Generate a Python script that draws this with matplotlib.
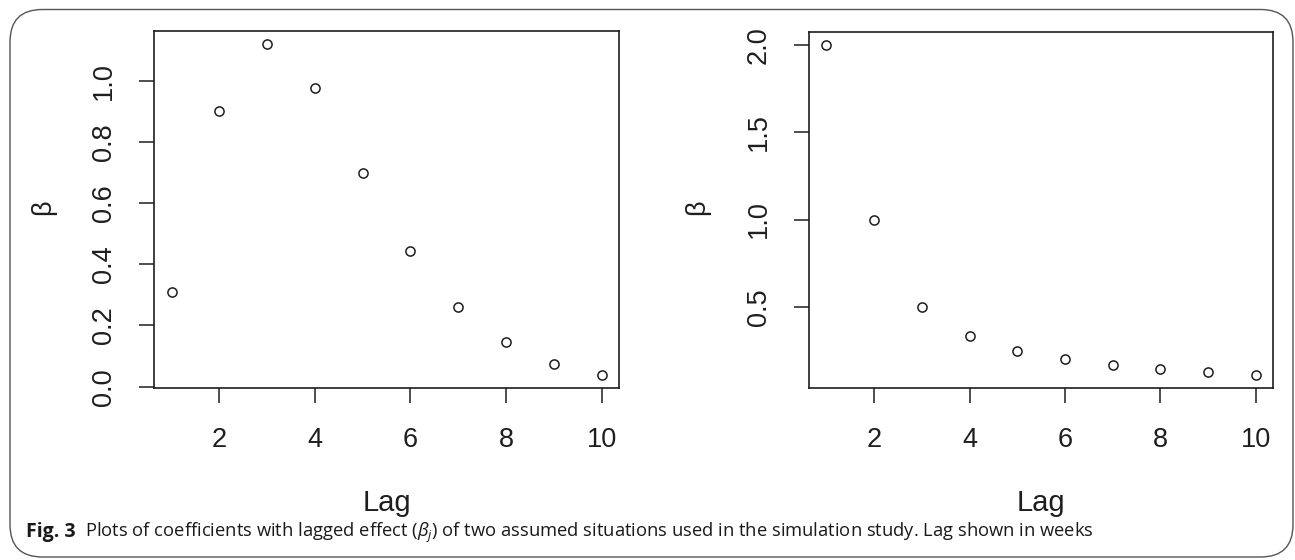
import numpy as np
import matplotlib
matplotlib.use("Agg")
import matplotlib.pyplot as plt
from matplotlib.patches import FancyBboxPatch

# ---- data ----
lags = [1, 2, 3, 4, 5, 6, 7, 8, 9, 10]
beta_left = [0.308, 0.902, 1.119, 0.977, 0.699, 0.444, 0.260, 0.146, 0.075, 0.038]
beta_right = [2.0, 1.0, 0.5, 0.333, 0.25, 0.2, 0.167, 0.143, 0.125, 0.111]
xticks = [2, 4, 6, 8, 10]
yticks_left = [0.0, 0.2, 0.4, 0.6, 0.8, 1.0]
yticks_right = [0.5, 1.0, 1.5, 2.0]
xlabel = "Lag"
ylabel = "β"
caption_bold = "Fig. 3"
caption_rest = r"Plots of coefficients with lagged effect ($\it{\beta_j}$) of two assumed situations used in the simulation study. Lag shown in weeks"

plt.rcParams['mathtext.fontset'] = 'custom'
plt.rcParams['mathtext.it'] = 'Open Sans:italic'
plt.rcParams['mathtext.rm'] = 'Open Sans'

W, H = 1295, 560
fig = plt.figure(figsize=(W / 100, H / 100), dpi=100)
fig.patch.set_facecolor('white')

INK = '#1e1e1e'
FONT = 'Liberation Sans'


def rlim(v):
    lo, hi = min(v), max(v)
    e = 0.04 * (hi - lo)
    return lo - e, hi + e


def px_rect(x0, y0, x1, y1):
    return [x0 / W, 1 - y1 / H, (x1 - x0) / W, (y1 - y0) / H]


def panel(rect, y, yticks, ylab_x):
    ax = fig.add_axes(rect)
    ax.plot(lags, y, linestyle='none', marker='o', markersize=6.6,
            markerfacecolor='none', markeredgecolor=INK, markeredgewidth=1.1)
    ax.set_xlim(*rlim(lags))
    ax.set_ylim(*rlim(y))
    ax.set_xticks(xticks)
    ax.set_yticks(yticks)
    ax.set_xticklabels([str(t) for t in xticks], fontsize=19.5, family=FONT, color=INK)
    ax.set_yticklabels([f"{t:.1f}" for t in yticks], fontsize=19.5, family=FONT,
                       color=INK, rotation=90, va='center')
    ax.tick_params(axis='both', direction='out', length=11, width=1.1, color=INK)
    ax.tick_params(axis='x', pad=17)
    ax.tick_params(axis='y', pad=16)
    for s in ax.spines.values():
        s.set_linewidth(1.2)
        s.set_color(INK)
    ax.set_xlabel(xlabel, fontsize=21, family=FONT, color=INK, va='center')
    ax.xaxis.set_label_coords(0.5, -0.322)
    ax.set_ylabel(ylabel, fontsize=19.5, family=FONT, color=INK, va='center')
    ax.yaxis.set_label_coords(ylab_x, 0.507)
    return ax


axL = panel(px_rect(154.3, 31.0, 618.7, 388.3), beta_left, yticks_left, -0.2386)
axR = panel(px_rect(809.3, 31.7, 1273.0, 388.0), beta_right, yticks_right, -0.242)

# ---- outer rounded frame ----
frame = FancyBboxPatch((10 / W, 1 - 557 / H), (1293 - 10) / W, (557 - 9.5) / H,
                       boxstyle="round,pad=0,rounding_size=0.025",
                       transform=fig.transFigure, fill=False,
                       edgecolor='#555555', linewidth=1.0,
                       mutation_aspect=W / H)
fig.add_artist(frame)

# ---- caption ----
cap_y = 1 - 537.3 / H
t1 = fig.text(26 / W, cap_y, caption_bold, family='Open Sans', weight='bold',
              fontsize=14, color='#1a1a1a', va='baseline', ha='left')
fig.canvas.draw()
r = fig.canvas.get_renderer()
x_start = t1.get_window_extent(r).x1 + 9
t2 = fig.text(x_start / W, cap_y, caption_rest, family='Open Sans',
              fontsize=13, color='#1a1a1a', va='baseline', ha='left')
fig.canvas.draw()
w2 = t2.get_window_extent(r).width
target = 1092 - x_start
t2.set_fontsize(13 * target / w2)

fig.savefig('out.png', dpi=100, facecolor='white')
